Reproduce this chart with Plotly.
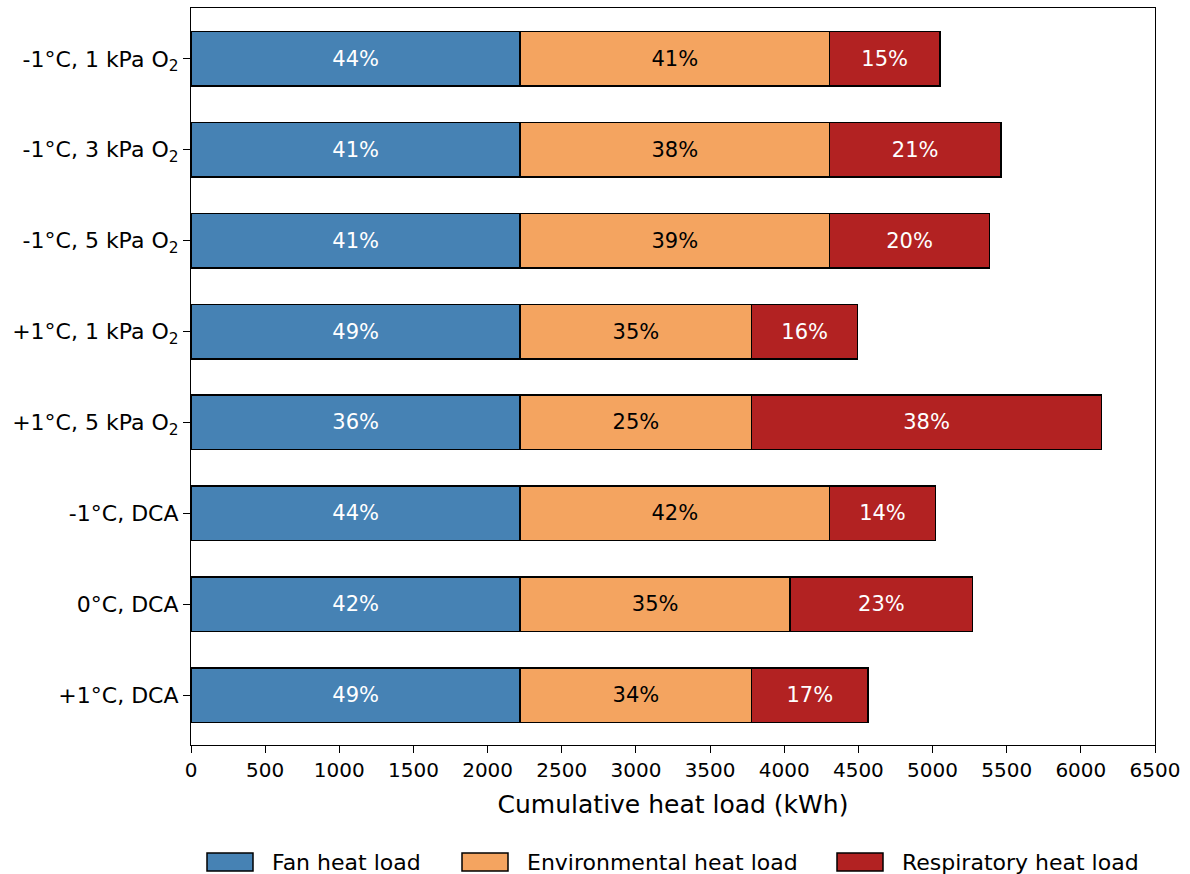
import plotly.graph_objects as go

# Scenario labels (top to bottom)
scenarios = [
    "-1°C, 1 kPa O<sub>2</sub>",
    "-1°C, 3 kPa O<sub>2</sub>",
    "-1°C, 5 kPa O<sub>2</sub>",
    "+1°C, 1 kPa O<sub>2</sub>",
    "+1°C, 5 kPa O<sub>2</sub>",
    "-1°C, DCA",
    "0°C, DCA",
    "+1°C, DCA",
]

# Cumulative heat loads (kWh)
fan_load = [2220, 2220, 2220, 2220, 2220, 2220, 2220, 2220]
env_load = [2085, 2085, 2085, 1560, 1560, 2085, 1820, 1560]
resp_load = [745, 1155, 1080, 715, 2360, 715, 1230, 785]

x_ticks = list(range(0, 6501, 500))

totals = [f + e + r for f, e, r in zip(fan_load, env_load, resp_load)]


def pct(values):
    return [f"{round(100 * v / t)}%" for v, t in zip(values, totals)]


y_idx = list(range(len(scenarios)))
font_family = "DejaVu Sans, Liberation Sans, sans-serif"

series = [
    ("Fan heat load", fan_load, "#4682B4", "white"),
    ("Environmental heat load", env_load, "#F4A460", "black"),
    ("Respiratory heat load", resp_load, "#B22222", "white"),
]

# Figure geometry (pixels)
W, H = 1190, 874
M_L, M_R, M_T, M_B = 191, 35, 8, 129
PW, PH = W - M_L - M_R, H - M_T - M_B


def px_to_paper_x(px):
    return (px - M_L) / PW


def px_to_paper_y(py):
    return (H - M_B - py) / PH


fig = go.Figure()
for name, vals, color, txt_color in series:
    fig.add_trace(go.Bar(
        name=name,
        y=y_idx,
        x=vals,
        orientation="h",
        width=0.6,
        marker=dict(color=color, line=dict(color="black", width=1.5)),
        text=pct(vals),
        textposition="inside",
        insidetextanchor="middle",
        textangle=0,
        textfont=dict(color=txt_color, size=21, family=font_family),
        hoverinfo="x+name",
        showlegend=False,
    ))

# Legend row below the axis: wide colour patches with labels
legend_patch_left = [207, 462, 837]
patch_w, patch_top, patch_bot = 46, 853, 871
shapes, annotations = [], []
for (name, _, color, _), left in zip(series, legend_patch_left):
    shapes.append(dict(
        type="rect", xref="paper", yref="paper",
        x0=px_to_paper_x(left), x1=px_to_paper_x(left + patch_w),
        y0=px_to_paper_y(patch_bot), y1=px_to_paper_y(patch_top),
        fillcolor=color, line=dict(color="black", width=1.5),
    ))
    annotations.append(dict(
        text=name, xref="paper", yref="paper",
        x=px_to_paper_x(left + patch_w + 17), xanchor="left",
        y=px_to_paper_y((patch_top + patch_bot) / 2), yanchor="middle",
        showarrow=False, font=dict(size=22, color="black", family=font_family),
    ))

fig.update_layout(
    barmode="stack",
    width=W,
    height=H,
    margin=dict(l=M_L, r=M_R, t=M_T, b=M_B, autoexpand=False),
    paper_bgcolor="white",
    plot_bgcolor="white",
    font=dict(family=font_family, size=21, color="black"),
    uniformtext=dict(minsize=21, mode="show"),
    showlegend=False,
    shapes=shapes,
    annotations=annotations,
    xaxis=dict(
        range=[0, 6500],
        tickvals=x_ticks,
        ticktext=[str(v) for v in x_ticks],
        ticks="outside", ticklen=7, tickwidth=1.2, tickcolor="black",
        showline=True, linecolor="black", linewidth=1.2, mirror=True,
        showgrid=False, zeroline=False, automargin=False,
        tickfont=dict(size=20),
        title=dict(text="Cumulative heat load (kWh)", font=dict(size=25), standoff=14),
    ),
    yaxis=dict(
        range=[7.55, -0.56],
        tickvals=y_idx,
        ticktext=scenarios,
        ticks="outside", ticklen=7, tickwidth=1.2, tickcolor="black",
        showline=True, linecolor="black", linewidth=1.2, mirror=True,
        showgrid=False, zeroline=False, automargin=False,
        tickfont=dict(size=22),
    ),
)

fig.write_html("out.html")
